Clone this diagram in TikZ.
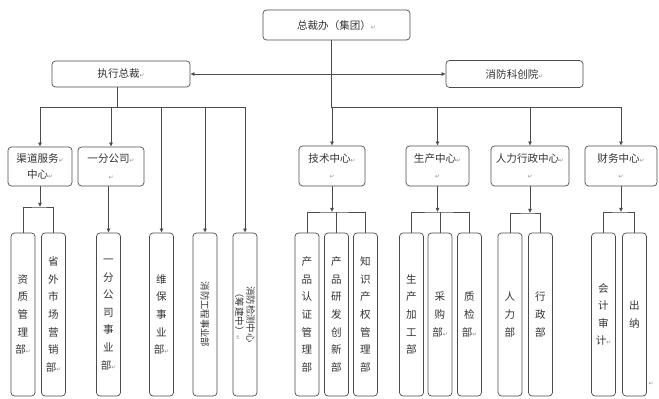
\documentclass[tikz,border=0pt]{standalone}
\usepackage{fontspec}
\usetikzlibrary{arrows.meta}
\newfontfamily\cjk{Noto Sans CJK SC}
\newfontfamily\markfont{DejaVu Sans}
\newcommand\pmk{{\markfont\color{black!45}\fontsize{5}{6}\selectfont ↵}}

\begin{document}
\begin{tikzpicture}[x=0.03cm, y=-0.03cm,
    box/.style 2 args={draw=black!70, line width=0.6pt, rounded corners=3pt,
        minimum width=#1*0.03cm, minimum height=#2*0.03cm, inner sep=0pt,
        text=black!80, align=center, font={\cjk\fontsize{9}{14}\selectfont}},
    bar/.style={box={24}{163}, font={\cjk\fontsize{9}{15}\selectfont}},
    turned/.style={rotate=-90, text=black!80, align=center, font={\cjk\fontsize{8}{9.5}\selectfont}},
    link/.style={draw=black!70, line width=0.6pt},
    arr/.style={link, -{Latex[length=3.5pt,width=3.5pt]}}]
    \useasboundingbox (0,0) rectangle (659,399);

    % Top level
    \node[box={147}{30}] (zcb) at (336.5,25) {总裁办（集团）\pmk};
    \node[box={138}{26}] (zxzc) at (121,74) {执行总裁\pmk};
    \node[box={137}{27}] (kcy) at (514.5,74) {消防科创院\pmk};

    % Centres
    \node[box={64}{39}] (qd) at (40,166.5) {渠道服务\pmk\\中心\pmk};
    \node[box={66}{39}] (yfgs) at (111,166.5) {一分公司\pmk\\\pmk};
    \node[box={66}{40}] (jszx) at (332,166) {技术中心\pmk\\\pmk};
    \node[box={63}{40}] (sczx) at (437.5,166) {生产中心\pmk\\\pmk};
    \node[box={78}{40}] (rlxz) at (530,166) {人力行政中心\pmk\\\pmk};
    \node[box={72}{40}] (cwzx) at (621,166) {财务中心\pmk\\\pmk};

    % Departments, left side
    \node[bar] (zzgl) at (23,314.5) {资\\质\\管\\理\\部\pmk};
    \node[bar] (swsc) at (53.5,314.5) {省\\外\\市\\场\\营\\销\\部\pmk};
    \node[bar] (yfsy) at (108.5,314.5) {一\\分\\公\\司\\事\\业\\部\pmk};
    \node[bar] (wbsy) at (161.5,314.5) {维\\保\\事\\业\\部\pmk};
    \node[bar] (xfgc) at (205,314.5) {};
    \node[turned] (xfgct) at (xfgc) {消防工程事业部};
    \node[bar] (jczx) at (245,314.5) {};
    \node[turned] (jczxt) at (jczx) {消防检测中心\\（筹建中）\pmk};

    % Departments, right side
    \node[bar] (cprz) at (307,314.5) {产\\品\\认\\证\\管\\理\\部};
    \node[bar] (cpyf) at (336.5,314.5) {产\\品\\研\\发\\创\\新\\部};
    \node[bar] (zscq) at (365.5,314.5) {知\\识\\产\\权\\管\\理\\部};
    \node[bar] (scjg) at (411.5,314.5) {生\\产\\加\\工\\部};
    \node[bar] (cgb) at (440,314.5) {采\\购\\部\pmk};
    \node[bar] (zjb) at (469.5,314.5) {质\\检\\部\pmk};
    \node[bar] (rlb) at (510,314.5) {人\\力\\部};
    \node[bar] (xzb) at (540.5,314.5) {行\\政\\部};
    \node[bar] (kjsj) at (603.5,314.5) {会\\计\\审\\计\pmk};
    \node[bar] (cn) at (634.5,314.5) {出\\纳};
    \node (endmark) at (651,384) {\pmk};

    % Trunk from the top
    \coordinate (mid) at (331,74);
    \coordinate (rbus) at (331,107);
    \draw[link] (zcb.south -| rbus) -- (rbus);
    \draw[arr] (mid) -- (zxzc.east);
    \draw[arr] (mid) -- (kcy.west);
    \foreach \n in {jszx,sczx,rlxz,cwzx}
        \draw[arr] (rbus) -| (\n.north);

    % Under the executive
    \coordinate (lbus) at (117,107);
    \draw[link] (zxzc.south -| lbus) -- (lbus);
    \foreach \n in {qd,yfgs,wbsy,xfgc,jczx}
        \draw[arr] (lbus) -| (\n.north);
    \draw[arr] (yfsy.north |- yfgs.south) -- (yfsy.north);

    % Brackets
    \coordinate (qdbr) at (40,207);
    \draw[arr] (qd.south) -- (qdbr);
    \draw[link] (zzgl.north) |- (qdbr) -| (swsc.north);

    \coordinate (jsbr) at (332,212);
    \draw[arr] (jszx.south) -- (jsbr);
    \draw[link] (cprz.north) |- (jsbr) -| (zscq.north);
    \draw[link] (cpyf.north) -- (cpyf.north |- jsbr);

    \coordinate (scbr) at (437.5,212);
    \draw[arr] (sczx.south) -- (scbr);
    \draw[link] (scjg.north) |- (scbr) -| (zjb.north);
    \draw[link] (cgb.north) -- (cgb.north |- scbr);

    \coordinate (rlbr) at (530,213);
    \draw[arr] (rlxz.south) -- (rlbr);
    \draw[link] (rlb.north) |- (rlbr) -| (xzb.north);

    \coordinate (cwbr) at (621,212);
    \draw[arr] (cwzx.south) -- (cwbr);
    \draw[link] (kjsj.north) |- (cwbr) -| (cn.north);
\end{tikzpicture}
\end{document}
